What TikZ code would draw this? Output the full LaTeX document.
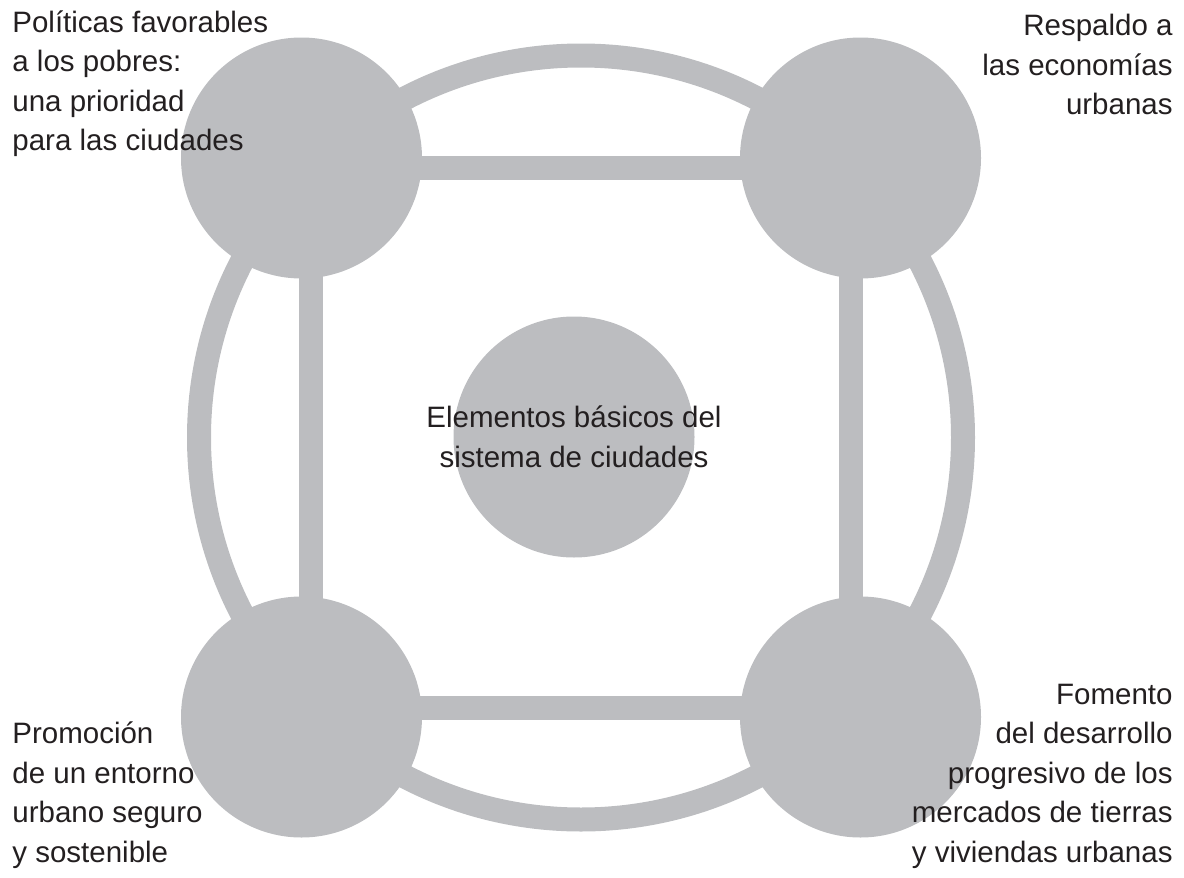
\documentclass[tikz,border=0pt]{standalone}
\usepackage{fontspec}
\setmainfont{Liberation Sans}
\usetikzlibrary{positioning, calc, backgrounds}
\definecolor{hubgray}{RGB}{188,189,192}
\definecolor{inkgray}{RGB}{35,31,32}

\begin{document}
\begin{tikzpicture}[
        x=0.5pt, y=-0.5pt,
        font=\fontsize{14.75}{19.75}\selectfont,
        text=inkgray,
        pillar/.style = {
            circle,
            fill=hubgray,
            inner sep=0pt,
            minimum size=120.5pt
        },
        link/.style = {
            draw=hubgray,
            line width=12pt
        },
        caption/.style = {
            inner sep=0pt
        }
    ]

    \useasboundingbox (0,0) rectangle (1184,878);

    \node[pillar] (core) at (574,437) {};
    \node[caption, align=center] (coretext) at (core) {Elementos básicos del\\sistema de ciudades};

    \node[pillar] (poor) at (301.5,158) {};
    \node[pillar] (econ) at (860.5,158) {};
    \node[pillar] (safe) at (301.5,717) {};
    \node[pillar] (land) at (860.5,717) {};

    \begin{scope}[on background layer]
        \draw[link] ($(poor)!0.5!(land)$) circle[radius=191pt];
        \draw[link] ($(poor.center)+(0,10)$) -- ($(econ.center)+(0,10)$);
        \draw[link] ($(safe.center)+(0,-9)$) -- ($(land.center)+(0,-9)$);
        \draw[link] ($(poor.center)+(9,0)$) -- ($(safe.center)+(9,0)$);
        \draw[link] ($(econ.center)+(-9.5,0)$) -- ($(land.center)+(-9.5,0)$);
    \end{scope}

    \node[caption, anchor=north west, align=left] (poortext) at (12,10) {Políticas favorables\\a los pobres:\\una prioridad\\para las ciudades};
    \node[caption, anchor=north east, align=right] (econtext) at (1173,14) {Respaldo a\\las economías\\urbanas};
    \node[caption, anchor=south west, align=left] (safetext) at (12,869) {Promoción\\de un entorno\\urbano seguro\\y sostenible};
    \node[caption, anchor=south east, align=right] (landtext) at (1173,869) {Fomento\\del desarrollo\\progresivo de los\\mercados de tierras\\y viviendas urbanas};

\end{tikzpicture}
\end{document}
